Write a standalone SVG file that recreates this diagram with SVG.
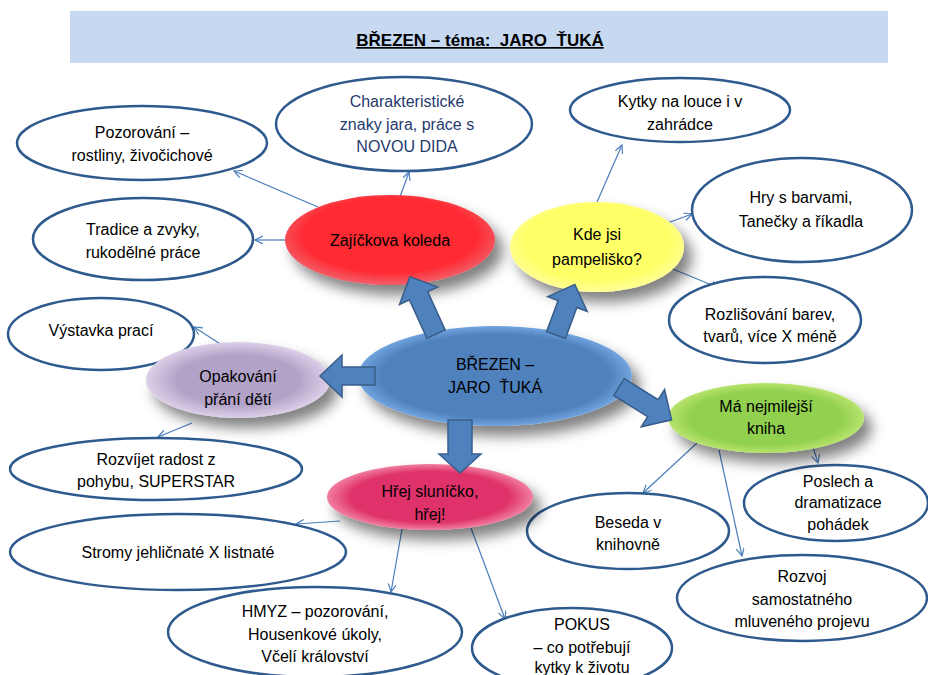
<svg xmlns="http://www.w3.org/2000/svg" width="928" height="675" viewBox="0 0 928 675">
<style>
.t{font-family:"Liberation Sans",Arial,sans-serif;font-size:16px;fill:#000;text-anchor:middle;white-space:pre}
.d{fill:#1F3A6E}
.o{fill:#fff;stroke:#2F5A8E;stroke-width:2.5}
.c{stroke:#4A7EBB;stroke-width:1.2;fill:none;marker-end:url(#ah)}
.ba{fill:#4F81BD;stroke:#385D8A;stroke-width:1.5}
</style>
<defs>
<marker id="ah" markerWidth="10" markerHeight="10" refX="8" refY="4" orient="auto" markerUnits="userSpaceOnUse">
<path d="M0,0 L8,4 L0,8" fill="none" stroke="#4A7EBB" stroke-width="1.2"/>
</marker>
<filter id="sh" x="-30%" y="-30%" width="160%" height="170%">
<feGaussianBlur in="SourceAlpha" stdDeviation="7"/>
<feOffset dx="8" dy="10" result="b"/>
<feComponentTransfer><feFuncA type="linear" slope="0.5"/></feComponentTransfer>
<feMerge><feMergeNode/><feMergeNode in="SourceGraphic"/></feMerge>
</filter>
<radialGradient id="gRed" cx="50%" cy="45%" r="55%"><stop offset="0.75" stop-color="#FF2A33"/><stop offset="1" stop-color="#F2606A"/></radialGradient>
<radialGradient id="gYel" cx="50%" cy="45%" r="55%"><stop offset="0.75" stop-color="#FFFF66"/><stop offset="1" stop-color="#FFFF9A"/></radialGradient>
<radialGradient id="gBlu" cx="50%" cy="50%" r="52%"><stop offset="0.8" stop-color="#4F81BD"/><stop offset="0.95" stop-color="#6FA2DC"/><stop offset="1" stop-color="#9CC6F0"/></radialGradient>
<radialGradient id="gLav" cx="50%" cy="50%" r="55%"><stop offset="0.6" stop-color="#B3A2C7"/><stop offset="1" stop-color="#E8DDF2"/></radialGradient>
<radialGradient id="gGrn" cx="50%" cy="50%" r="55%"><stop offset="0.7" stop-color="#92D050"/><stop offset="1" stop-color="#C9EC7A"/></radialGradient>
<radialGradient id="gPnk" cx="50%" cy="50%" r="55%"><stop offset="0.7" stop-color="#E0336A"/><stop offset="1" stop-color="#F7A0B8"/></radialGradient>
</defs>

<g id="title">
<rect x="70" y="11" width="818" height="52" fill="#C6D9F1"/>
<text x="480" y="46" font-family="'Liberation Sans',Arial,sans-serif" font-size="17" font-weight="bold" text-anchor="middle" text-decoration="underline" fill="#000" style="white-space:pre">BŘEZEN – téma:  JARO  ŤUKÁ</text>
</g>

<g id="connectors">
<line class="c" x1="318" y1="207" x2="234" y2="171"/>
<line class="c" x1="286" y1="240" x2="255" y2="240"/>
<line class="c" x1="397" y1="205" x2="409" y2="172"/>
<line class="c" x1="597" y1="202" x2="622" y2="145"/>
<line class="c" x1="662" y1="225" x2="692" y2="214"/>
<line class="c" x1="668" y1="267" x2="719" y2="288"/>
<line class="c" x1="239" y1="356" x2="194" y2="327"/>
<line class="c" x1="192" y1="423" x2="158" y2="437"/>
<line class="c" x1="340" y1="521" x2="296" y2="524"/>
<line class="c" x1="402" y1="529" x2="391" y2="592"/>
<line class="c" x1="471" y1="528" x2="505" y2="619"/>
<line class="c" x1="697" y1="443" x2="643" y2="493"/>
<line class="c" x1="719" y1="450" x2="742" y2="556"/>
<line class="c" x1="813" y1="447" x2="818" y2="463"/>
</g>

<g id="n-pozorovani"><ellipse class="o" cx="142" cy="143" rx="125" ry="37"/>
<text class="t" x="142" y="138">Pozorování –</text><text class="t" x="142" y="161">rostliny, živočichové</text></g>

<g id="n-tradice"><ellipse class="o" cx="143" cy="239" rx="110" ry="41"/>
<text class="t" x="143" y="235">Tradice a zvyky,</text><text class="t" x="143" y="258">rukodělné práce</text></g>

<g id="n-charakteristicke"><ellipse class="o" cx="404" cy="124" rx="128" ry="47"/>
<text class="t d" x="407" y="107">Charakteristické</text>
<text class="t d" x="407" y="130">znaky jara, práce s</text>
<text class="t d" x="407" y="152">NOVOU DIDA</text></g>

<g id="n-kytky"><ellipse class="o" cx="680" cy="110" rx="110" ry="32"/>
<text class="t" x="680" y="107">Kytky na louce i v</text><text class="t" x="680" y="130">zahrádce</text></g>

<g id="n-hry"><ellipse class="o" cx="802" cy="210" rx="110" ry="52"/>
<text class="t" x="801" y="203">Hry s barvami,</text><text class="t" x="801" y="227">Tanečky a říkadla</text></g>

<g id="n-rozlisovani"><ellipse class="o" cx="765" cy="320" rx="96" ry="43"/>
<text class="t" x="770" y="320">Rozlišování barev,</text><text class="t" x="770" y="342">tvarů, více X méně</text></g>

<g id="n-vystavka"><ellipse class="o" cx="101" cy="334" rx="93" ry="36"/>
<text class="t" x="101" y="336">Výstavka prací</text></g>

<g id="n-rozvijet"><ellipse class="o" cx="156" cy="469" rx="146" ry="31"/>
<text class="t" x="156" y="465">Rozvíjet radost z</text><text class="t" x="156" y="487">pohybu, SUPERSTAR</text></g>

<g id="n-stromy"><ellipse class="o" cx="178" cy="552" rx="168" ry="38"/>
<text class="t" x="178" y="558">Stromy jehličnaté X listnaté</text></g>

<g id="n-hmyz"><ellipse class="o" cx="315" cy="632" rx="147" ry="45"/>
<text class="t" x="315" y="617">HMYZ – pozorování,</text><text class="t" x="315" y="640">Housenkové úkoly,</text><text class="t" x="315" y="662">Včelí království</text></g>

<g id="n-pokus"><ellipse class="o" cx="572" cy="648" rx="100" ry="40"/>
<text class="t" x="582" y="630">POKUS</text><text class="t" x="582" y="653">– co potřebují</text><text class="t" x="582" y="673">kytky k životu</text></g>

<g id="n-beseda"><ellipse class="o" cx="628" cy="531" rx="101" ry="38"/>
<text class="t" x="628" y="528">Beseda v</text><text class="t" x="628" y="550">knihovně</text></g>

<g id="n-poslech"><ellipse class="o" cx="836" cy="503" rx="92" ry="38"/>
<text class="t" x="838" y="487">Poslech a</text><text class="t" x="838" y="508">dramatizace</text><text class="t" x="838" y="530">pohádek</text></g>

<g id="n-rozvoj"><ellipse class="o" cx="802" cy="598" rx="125" ry="43"/>
<text class="t" x="802" y="582">Rozvoj</text><text class="t" x="802" y="605">samostatného</text><text class="t" x="802" y="627">mluveného projevu</text></g>

<g id="n-zajickova"><ellipse cx="390" cy="240" rx="105" ry="45" fill="url(#gRed)" filter="url(#sh)"/>
<text class="t" x="390" y="246">Zajíčkova koleda</text></g>

<g id="n-kdejsi"><ellipse cx="597" cy="247" rx="87" ry="45" fill="url(#gYel)" filter="url(#sh)"/>
<text class="t" x="597" y="240">Kde jsi</text><text class="t" x="597" y="265">pampeliško?</text></g>

<g id="n-opakovani"><ellipse cx="238" cy="380" rx="92" ry="38" fill="url(#gLav)" filter="url(#sh)"/>
<text class="t" x="238" y="382">Opakování</text><text class="t" x="238" y="405">přání dětí</text></g>

<g id="n-kniha"><ellipse cx="766" cy="418" rx="98" ry="35" fill="url(#gGrn)" filter="url(#sh)"/>
<text class="t" x="766" y="412">Má nejmilejší</text><text class="t" x="766" y="434">kniha</text></g>

<g id="n-hrej"><ellipse cx="430" cy="497" rx="103" ry="33" fill="url(#gPnk)" filter="url(#sh)"/>
<text class="t" x="430" y="497">Hřej sluníčko,</text><text class="t" x="430" y="520">hřej!</text></g>

<g id="n-brezen"><ellipse cx="495" cy="376" rx="137" ry="50" fill="url(#gBlu)" filter="url(#sh)"/>
<text class="t" x="495" y="370">BŘEZEN –</text><text class="t" x="495" y="393">JARO  ŤUKÁ</text></g>

<g id="block-arrows">
<path class="ba" transform="translate(436,334) rotate(-114.5)" d="M0,-10 L42,-10 L42,-21 L63,0 L42,21 L42,10 L0,10 Z"/>
<path class="ba" transform="translate(556,335) rotate(-69.6)" d="M0,-10 L33,-10 L33,-21 L54,0 L33,21 L33,10 L0,10 Z"/>
<path class="ba" transform="translate(375,376) rotate(180)" d="M0,-9 L33,-9 L33,-21 L55,0 L33,21 L33,9 L0,9 Z"/>
<path class="ba" transform="translate(619,387) rotate(32)" d="M0,-10 L40,-10 L40,-22 L62,0 L40,22 L40,10 L0,10 Z"/>
<path class="ba" transform="translate(460,420) rotate(90)" d="M0,-12 L34,-12 L34,-21 L53,0 L34,21 L34,12 L0,12 Z"/>
</g>
</svg>
